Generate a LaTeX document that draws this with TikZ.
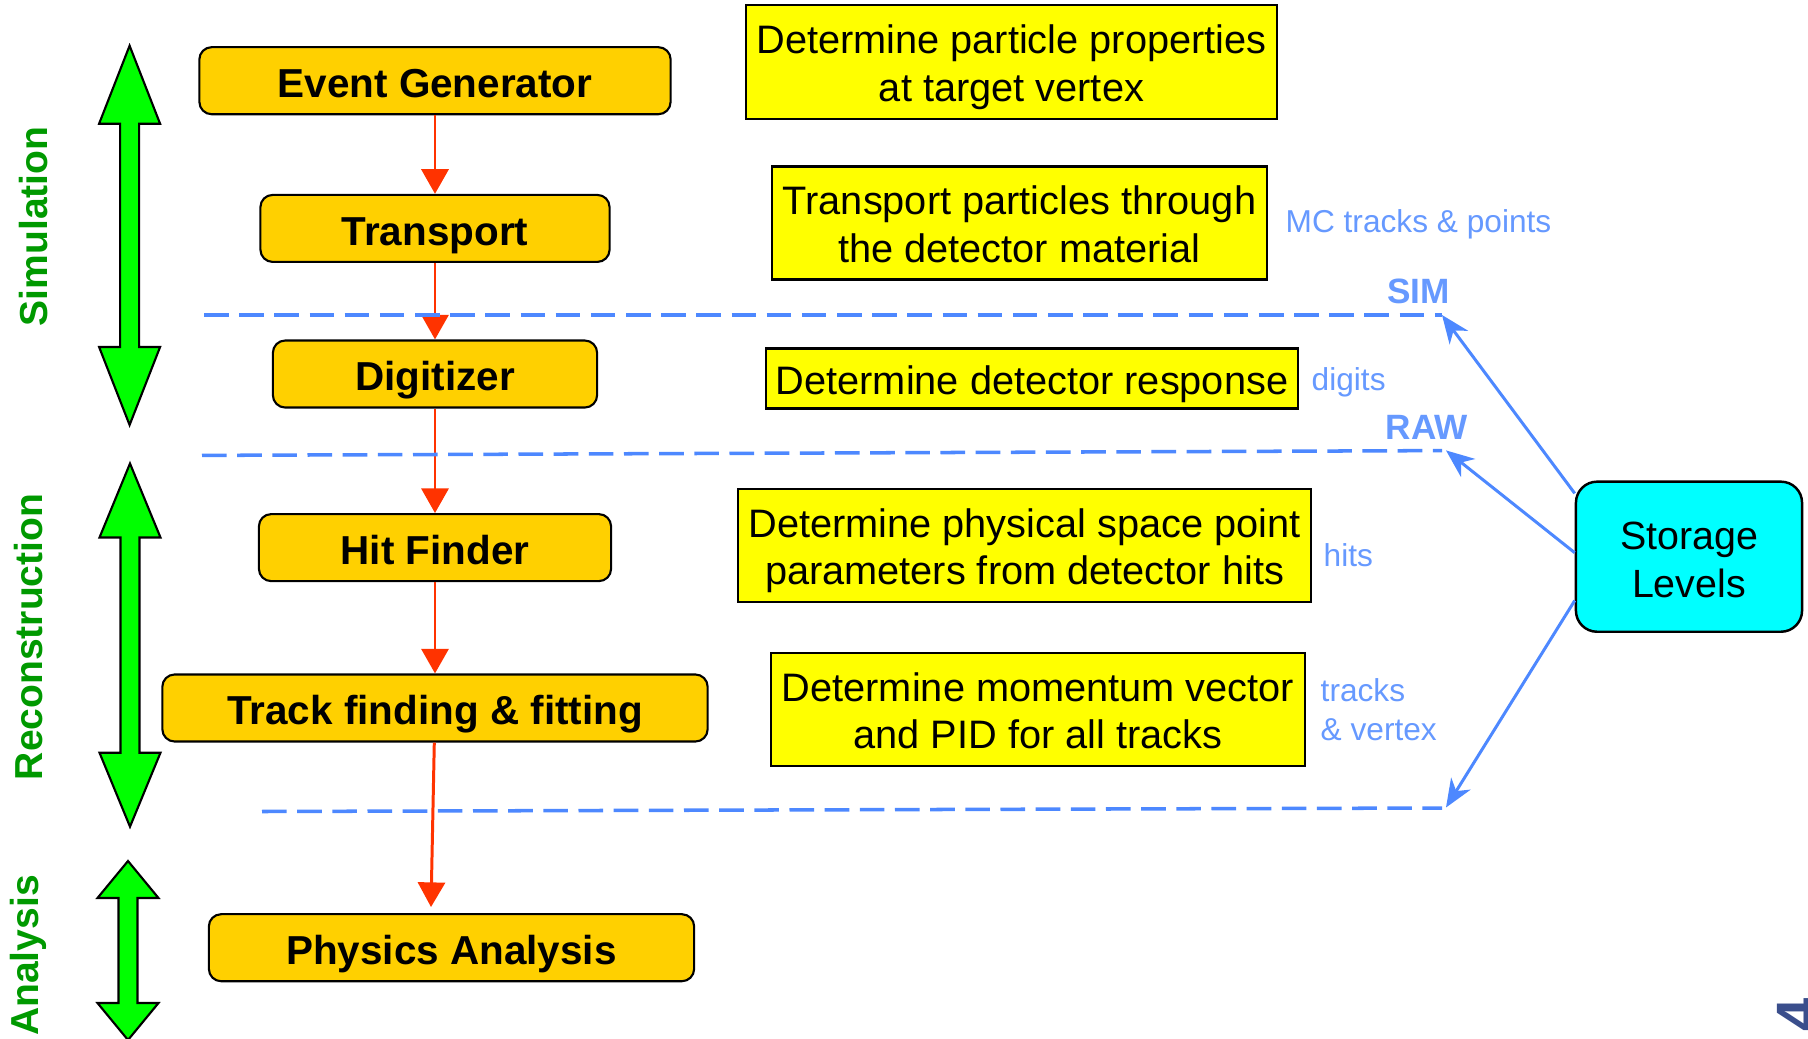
\documentclass[tikz,border=0pt]{standalone}
\usepackage{fontspec}
\setmainfont{Liberation Sans}
\usetikzlibrary{arrows.meta}

\definecolor{stepgold}{RGB}{255,208,0}
\definecolor{descyellow}{RGB}{255,255,0}
\definecolor{levelcyan}{RGB}{0,255,255}
\definecolor{phasegreen}{RGB}{0,255,0}
\definecolor{phasetext}{RGB}{0,153,0}
\definecolor{levelblue}{RGB}{77,136,255}
\definecolor{noteblue}{RGB}{102,153,255}
\definecolor{flowred}{RGB}{255,51,0}
\definecolor{pagenum}{RGB}{58,78,140}

\tikzset{
  stepbox/.style={draw=black, line width=0.6pt, fill=stepgold, rounded corners=3.5pt,
    minimum height=0.67cm, inner sep=0pt, text height=9.5pt, text depth=0pt,
    font=\bfseries\fontsize{11.5}{13}\selectfont},
  descbox/.style={draw=black, line width=0.7pt, fill=descyellow, inner sep=0pt,
    align=center, text height=22.2pt, text depth=0pt,
    font=\fontsize{11.3}{13.4}\selectfont},
  levelbox/.style={draw=black, line width=0.7pt, fill=levelcyan, rounded corners=6pt,
    minimum width=2.26cm, minimum height=1.5cm, align=center,
    text height=23.1pt, text depth=0pt, font=\fontsize{11.2}{13.46}\selectfont},
  note/.style={text=noteblue, inner sep=0pt, font=\fontsize{9}{11.1}\selectfont},
  levellabel/.style={text=noteblue, inner sep=0pt, font=\bfseries\fontsize{10}{12}\selectfont},
  phaselabel/.style={text=phasetext, rotate=90, inner sep=0pt,
    font=\bfseries\fontsize{11.1}{13}\selectfont},
  phasearrow/.style={draw=black, line width=0.6pt, fill=phasegreen},
  flowarrow/.style={draw=flowred, line width=0.85pt, -{Triangle[length=7pt,width=7.7pt]}},
  levelline/.style={draw=levelblue, line width=1pt, dash pattern=on 7pt off 3pt},
  levelarrow/.style={draw=levelblue, line width=0.85pt, -{Stealth[length=8pt,width=6.5pt,inset=2.5pt]}}
}

% fat green double arrow: centre x, top tip, bottom tip, head length
\newcommand{\bothways}[4]{%
  \draw[phasearrow] (#1,#2) -- (#1+30.5,#2+#4) -- (#1+9.5,#2+#4)
    -- (#1+9.5,#3-#4) -- (#1+30.5,#3-#4) -- (#1,#3)
    -- (#1-30.5,#3-#4) -- (#1-9.5,#3-#4) -- (#1-9.5,#2+#4)
    -- (#1-30.5,#2+#4) -- cycle;}

\begin{document}
\begin{tikzpicture}[x=0.01cm, y=-0.01cm]
  \fill[white] (0,0) rectangle (1808,1039);
  \useasboundingbox (0,0) rectangle (1808,1039);

  % phases
  \bothways{129.6}{45.7}{425}{78}
  \bothways{130}{463.5}{826.7}{74}
  \bothways{128}{861}{1040}{37}
  \node[phaselabel] (simtext) at (34,226.5) {Simulation};
  \node[phaselabel] (rectext) at (29,637) {Reconstruction};
  \node[phaselabel] (anatext) at (28.5,955.5) {Analysis};

  % processing steps
  \node[stepbox, minimum width=4.71cm] (evgen) at (435,80.7) {Event Generator};
  \node[stepbox, minimum width=3.49cm] (transport) at (435,228.4) {Transport};
  \node[stepbox, minimum width=3.24cm] (digi) at (435,374) {Digitizer};
  \node[stepbox, minimum width=3.52cm] (hitfind) at (435,547.6) {Hit Finder};
  \node[stepbox, minimum width=5.45cm] (trackfit) at (435,708) {Track finding \& fitting};
  \node[stepbox, minimum width=4.85cm] (physana) at (451.5,947.7) {Physics Analysis};
  \coordinate (physin) at (431,907);

  \draw[flowarrow] (evgen) -- (transport);
  \draw[flowarrow] (transport) -- (digi);
  \draw[flowarrow] (digi) -- (hitfind);
  \draw[flowarrow] (hitfind) -- (trackfit);
  \draw[flowarrow] (trackfit) -- (physin);

  % descriptions
  \node[descbox, minimum width=5.31cm, minimum height=1.14cm] (descgen) at (1011.5,62)
    {Determine particle properties\\at target vertex};
  \node[descbox, minimum width=4.95cm, minimum height=1.13cm] (desctrans) at (1019.5,223)
    {Transport particles through\\the detector material};
  \node[descbox, minimum width=5.32cm, minimum height=0.6cm, text height=9.1pt]
    (descdigi) at (1032,378.3) {Determine detector response};
  \node[descbox, minimum width=5.73cm, minimum height=1.13cm] (deschit) at (1024.5,545.5)
    {Determine physical space point\\parameters from detector hits};
  \node[descbox, minimum width=5.34cm, minimum height=1.13cm] (desctrack) at (1038,709.5)
    {Determine momentum vector\\and PID for all tracks};

  % data produced
  \node[note, anchor=base west] (mcnote) at (1285,232) {MC tracks \& points};
  \node[note, anchor=base west] (diginote) at (1311,390.5) {digits};
  \node[note, anchor=base west] (hitnote) at (1323,566) {hits};
  \node[note, anchor=west, align=left] (tracknote) at (1320,710) {tracks\\\& vertex};

  % storage levels
  \coordinate (simleft) at (204,315);
  \coordinate (simtip) at (1442,315);
  \coordinate (rawleft) at (202,455.4);
  \coordinate (rawtip) at (1446,450.4);
  \coordinate (recleft) at (262,811.5);
  \coordinate (rectip) at (1446,807.5);
  \draw[levelline] (simleft) -- (1442,315);
  \draw[levelline] (rawleft) -- (1442,450.6);
  \draw[levelline] (recleft) -- (1442,808);
  \node[levellabel, anchor=base] (simlabel) at (1418.5,303.4) {SIM};
  \node[levellabel, anchor=base] (rawlabel) at (1427,439.7) {RAW};

  \node[levelbox] (storage) at (1689,556.7) {Storage\\Levels};
  \draw[levelarrow] (storage.151) -- (simtip);
  \draw[levelarrow] (storage.178) -- (rawtip);
  \draw[levelarrow] (storage.201) -- (rectip);

  \node[rotate=90, anchor=base east, inner sep=0pt, text=pagenum,
    font=\bfseries\fontsize{17}{17}\selectfont] (pagemark) at (1818,998) {4};
\end{tikzpicture}
\end{document}
